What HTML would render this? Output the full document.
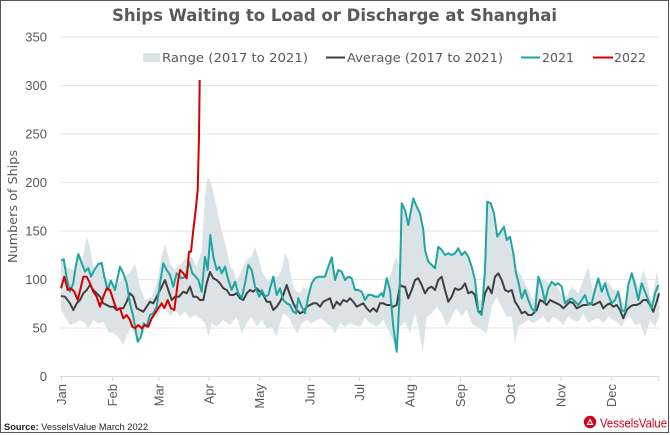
<!DOCTYPE html>
<html><head><meta charset="utf-8"><style>
html,body{margin:0;padding:0;background:#fff;}
svg{display:block;font-family:"Liberation Sans",Arial,sans-serif;}
.dv{font-family:"DejaVu Sans","Liberation Sans",sans-serif;}
</style></head><body>
<svg width="670" height="435" viewBox="0 0 670 435" xmlns="http://www.w3.org/2000/svg">
<rect x="0" y="0" width="670" height="435" fill="#fff"/>
<rect x="0.5" y="0.5" width="668" height="432" fill="none" stroke="#555" stroke-width="1"/>
<text class="dv" x="112" y="21" font-size="17" font-weight="bold" fill="#595959" textLength="445" lengthAdjust="spacingAndGlyphs">Ships Waiting to Load or Discharge at Shanghai</text>

<!-- gridlines -->
<g stroke="#e6e6e6" stroke-width="1">
<line x1="60" x2="659" y1="37" y2="37"/>
<line x1="60" x2="659" y1="85.5" y2="85.5"/>
<line x1="60" x2="659" y1="134" y2="134"/>
<line x1="60" x2="659" y1="182.5" y2="182.5"/>
<line x1="60" x2="659" y1="231" y2="231"/>
<line x1="60" x2="659" y1="279.5" y2="279.5"/>
<line x1="60" x2="659" y1="328" y2="328"/>
</g>
<line x1="60" x2="659" y1="376.5" y2="376.5" stroke="#d9d9d9" stroke-width="1"/>
<g stroke="#d9d9d9" stroke-width="1">
<line x1="61.4" x2="61.4" y1="376.5" y2="381"/>
<line x1="112.4" x2="112.4" y1="376.5" y2="381"/>
<line x1="158.8" x2="158.8" y1="376.5" y2="381"/>
<line x1="209" x2="209" y1="376.5" y2="381"/>
<line x1="259.6" x2="259.6" y1="376.5" y2="381"/>
<line x1="310" x2="310" y1="376.5" y2="381"/>
<line x1="359.6" x2="359.6" y1="376.5" y2="381"/>
<line x1="409.9" x2="409.9" y1="376.5" y2="381"/>
<line x1="460.5" x2="460.5" y1="376.5" y2="381"/>
<line x1="510.7" x2="510.7" y1="376.5" y2="381"/>
<line x1="561" x2="561" y1="376.5" y2="381"/>
<line x1="611.6" x2="611.6" y1="376.5" y2="381"/>
<line x1="658.8" x2="658.8" y1="376.5" y2="381"/>
</g>

<!-- y tick labels -->
<g font-size="13" fill="#595959" text-anchor="end">
<text x="47" y="41.5">350</text>
<text x="47" y="90">300</text>
<text x="47" y="138.5">250</text>
<text x="47" y="187">200</text>
<text x="47" y="235.5">150</text>
<text x="47" y="284">100</text>
<text x="47" y="332.5">50</text>
<text x="47" y="381">0</text>
</g>
<text class="dv" transform="translate(17,263) rotate(-90)" font-size="12.5" fill="#595959" textLength="113" lengthAdjust="spacingAndGlyphs">Numbers of Ships</text>

<!-- month labels -->
<g font-size="13" fill="#595959" text-anchor="end">
<text transform="translate(66,384) rotate(-90)">Jan</text>
<text transform="translate(117,384) rotate(-90)">Feb</text>
<text transform="translate(163.3,384) rotate(-90)">Mar</text>
<text transform="translate(213.5,384) rotate(-90)">Apr</text>
<text transform="translate(264.1,384) rotate(-90)">May</text>
<text transform="translate(314.5,384) rotate(-90)">Jun</text>
<text transform="translate(364.1,384) rotate(-90)">Jul</text>
<text transform="translate(414.4,384) rotate(-90)">Aug</text>
<text transform="translate(465,384) rotate(-90)">Sep</text>
<text transform="translate(515.2,384) rotate(-90)">Oct</text>
<text transform="translate(565.5,384) rotate(-90)">Nov</text>
<text transform="translate(616.1,384) rotate(-90)">Dec</text>
</g>

<!-- range band -->
<polygon fill="#dce3e6" stroke="none" points="61,262 68.3,268 75,270 78.3,254 81.7,263 86.7,236.7 90,246.7 93.3,268 98.3,264 101.7,263 105,276.7 111.7,280.7 115,286 118.3,283.3 125,276.7 131.7,270 135,263.3 140,286.7 145,300 151.7,296.7 156.7,283.3 161.7,256.7 165,243.3 170,263.3 175,270 181.7,263.3 186.7,256.7 191.7,256.7 196.7,266.7 201.7,250 205,196.7 207.7,176.7 211,183.3 214.3,196.7 218.3,215 222,232 226.7,250 230,266.7 233.3,270 236.7,281.7 241.7,270 246.7,260 251.7,256.7 255,246.7 258.3,256.7 261.7,270 266.7,280 270,280 273.3,276.7 278.3,276.7 281.7,270 285,253.3 288.3,260 291.7,280 295,290 300,293.3 303.3,286.7 308.3,290 311.7,283.3 315,276.7 320,276.7 325,276.7 328.3,266.7 331.7,257.3 335,276.7 340,270 343.3,276.7 350,276.7 356.7,290 363.3,293.3 370,293.3 376.7,295 383.3,291.7 386.7,278.3 390,276.7 393.3,265 396,256.7 399.3,265 401.7,203.3 405,210 408.3,225 411.7,206.7 413.3,198.3 416.7,206.7 420,213.3 423.3,230 425,250 428.3,261.7 431.7,265 435,268.3 438.3,246.7 441.7,250 445,255 448.3,253.3 451.7,255 455,253.3 458.3,248.3 461.7,255 465,251.7 468.3,256.7 471.7,266.7 475,280 478.3,300 481.7,300 485,270 487.3,201.7 490.7,203.3 494,213.3 497.3,236.7 500.7,231.7 504,226.7 506.7,240 510,236.7 513.3,253.3 516,270 520,273.3 526.7,286.7 533.3,300 538.3,276.7 545,280 550,283.3 556.7,286.7 563.3,296.7 566.7,296.7 571.7,286.7 578.3,293.3 583.3,280 588.3,266.7 593.3,293.3 598.3,276.7 603.3,286.7 606.7,280 613.3,290 618.3,290 625,306.7 630,283.3 633.3,273.3 638.3,286.7 643.3,270 646.7,280 651.7,303.3 656.7,271.7 659.3,286.7 659.3,316.7 655,326.7 650,320 645,336.7 640,323.3 635,325 630,316.7 625,320 621.7,326.7 618.3,323.3 613.3,320 608.3,316.7 603.3,323.3 598.3,318.3 593.3,320 588.3,323.3 583.3,313.3 578.3,321.7 573.3,320 568.3,316.7 563.3,325 558.3,320 553.3,316.7 548.3,323.3 543.3,316.7 538.3,320 533.3,323.3 528.3,320 523.3,323.3 518.3,326.7 515,343.3 511.7,316.7 506.7,316.7 501.7,306.7 496.7,296.7 491.7,306.7 486.7,333.3 481.7,330 476.7,326.7 471.7,323.3 466.7,310 461.7,316.7 456.7,308.3 451.7,316.7 446.7,326.7 441.7,313.3 436.7,306.7 431.7,313.3 426.7,316.7 422.7,351.7 418.3,326.7 415,313.3 410,333.3 405,321.7 400,326.7 396.7,352 392.7,340 388.3,330 383.3,320 376.7,326.7 370,323.3 365,318.3 360,326.7 355,325 350,323.3 345,326.7 340,323.3 335,333.3 331.7,326.7 326.7,323.3 321.7,318.3 316.7,320 311.7,323.3 306.7,320 301.7,323.3 297.3,333.3 293.3,326.7 288.3,316.7 283.3,313.3 280,323.3 276.7,336.7 271.7,326.7 266.7,328.3 261.7,320 256.7,326.7 251.7,316.7 246.7,323.3 241.7,333.3 236.7,316.7 230,325 223.3,320 216.7,326.7 211.7,323.3 208.3,336.7 205,323.3 200,318.3 195,315 190,318.3 185,311.7 180,316.7 175,310 170,316.7 165,305 161,310 156.7,316.7 151.7,318.3 146.7,326.7 141,336.7 136.7,340 131,326.7 126.7,336.7 123.3,345 118.3,336.7 113.3,333.3 108.3,331.7 103.3,321.7 98.3,323.3 93.3,320 88.3,328.3 85,323.3 80,320 75,323.3 70,325 65,316.7 61,310"/>

<!-- average -->
<polyline fill="none" stroke="#404040" stroke-width="2" stroke-linejoin="round" points="61,296 65,296.7 70,303.3 73.3,310 76.7,303.3 80,300 83.3,293.3 86.7,290 90,285 93.3,290 96.7,293.3 100,296.7 103.3,303.3 106.7,305 110,306.7 113.3,306.7 116.7,310 120,308.3 123.3,308.3 126.7,301.7 130,293.3 133.3,296.7 136.7,308.3 140,310 143.3,311.7 146.7,306.7 150,301.7 153.3,303.3 156.7,296.7 161,288.3 165,280 168.3,290 171.7,300 175,296.7 179,296.7 183.3,291.7 186.7,293.3 190,286.7 193.3,296.7 196.7,296.7 200,300 203.3,300 206.7,283.3 210,272 213.3,278.3 216.7,280 220,283.3 223.3,288.3 226.7,290 230,295 233.3,295 236.7,293.3 240,298.3 243.3,300 246.7,293.3 250,290 253.3,291.7 256.7,288.3 260,291.7 263.3,295 266.7,301.7 270,301.7 273.3,310 276.7,306.7 280,301.7 283.3,295 286.7,285 290,295 293.3,303.3 296.7,310 300,313.3 303.3,311.7 306.7,306.7 310,305 313.3,303.3 316.7,303.3 320,306.7 323.3,301.7 326.7,300 330,298.3 333.3,308.3 336.7,301.7 340,305 343.3,300 346.7,301.7 350,298.3 353.3,301.7 356.7,306.7 360,305 363.3,303.3 366.7,308.3 370,311.7 373.3,308.3 376.7,311.7 380,303.3 383.3,303.3 386.7,305 390,305 393.3,306.7 396.7,305 400,285 403.3,286.7 405,286.7 408.3,298.3 411.7,290 415,280 418.3,278.3 421.7,285 425,293.3 428.3,288.3 431.7,286.7 435,290 438.3,280 441.7,276.7 445,290 448.3,301.7 451.7,296.7 455,288.3 458.3,290 461.7,288.3 465,283.3 468.3,293.3 471.7,291.7 475,295 478.3,311.7 481.7,311.7 485,293.3 488.3,286.7 491.7,293.3 495,276.7 498.3,273.3 501.7,280 505,290 508.3,291.7 511.7,290 515,301.7 518.3,306.7 521.7,313.3 525,311.7 528.3,315 531.7,315 536.7,310 540,300 543.3,301.7 546.7,305 550,300 553.3,301.7 556.7,303.3 560,305 563.3,308.3 566.7,305 570,301.7 573.3,303.3 576.7,308.3 580,306.7 583.3,305 586.7,305 590,303.3 593.3,305 596.7,303.3 600,301.7 603.3,308.3 606.7,305 610,303.3 613.3,306.7 616.7,305 620,310 623.3,318.3 626.7,310 630,306.7 633.3,305 636.7,305 640,303.3 643.3,300 646.7,300 650,305 653.3,311.7 656.7,301.7 659,293.3"/>

<!-- 2021 -->
<polyline fill="none" stroke="#1fa5a2" stroke-width="2" stroke-linejoin="round" points="61,260.7 63.7,259.3 66.7,278 70,291.7 73.3,283 75.7,266.7 78.3,254 81.7,263 85,271.7 88.3,268 91,276.7 94.3,270 98.3,264 101.7,263 104.3,276.7 107.7,290 111,280.7 115,290 120,266.7 123.3,273.3 126.7,283.3 130,303.3 133.3,316.7 137.7,341.7 141,336.7 143.7,323.3 146.7,326.7 150,315 153.3,313.3 156.7,306.7 160,283.3 163.3,263.3 166.7,270 170,275 173.3,286.7 176.7,273.3 181.7,278.3 185.7,276.7 189,261.7 192.3,273.3 195.7,276.7 198.3,280 201.7,291.7 205,256.7 207.7,270 210.3,235 213.3,256.7 216.7,270 219.3,266.7 221.7,273.3 225,266.7 228.3,280 231.7,290 235,281.7 238.3,293.3 241.7,298.3 245,283.3 248.3,265 251.7,270 255,286.7 259.3,296.7 261.7,290 265,296.7 268.3,295 273.3,276.7 276.7,295 280,288.3 283.3,300 286.7,303.3 290,305 293.3,311.7 296,313.3 298.3,298.3 301.7,306.7 305,313.3 308.3,296.7 311.7,283.3 315,278.3 318.3,276.7 321.7,276.7 325,276.7 328.3,266.7 331.7,257.3 335,280 338.3,270 341.7,271.7 345,280 348.3,276.7 351.7,278.3 355,290 358.3,290 361.7,291.7 365,300 368.3,295 371.7,295 375,296.7 378.3,296.7 381.7,293.3 383.3,296.7 386.7,278.3 390,290 393.3,326.7 396.7,351.7 399.3,303.3 401.7,203.3 405,210 408.3,225 411.7,206.7 413.3,198.3 416.7,206.7 420,213.3 423.3,230 425,250 428.3,261.7 431.7,265 435,268.3 438.3,246.7 441.7,250 445,255 448.3,253.3 451.7,255 455,253.3 458.3,248.3 461.7,255 465,251.7 468.3,256.7 471.7,266.7 475,280 478.3,311.7 481.7,315 485,270 487.3,201.7 490.7,203.3 494,213.3 497.3,236.7 500.7,231.7 504,226.7 506.7,240 510,236.7 513.3,253.3 516,273.3 518.3,281.7 521.7,298.3 525,290 528.3,300 531.7,308.3 535,311.7 538.3,276.7 541.7,286.7 545,301.7 548.3,288.3 551.7,281.7 555,285 558.3,283.3 561.7,286.7 565,303.3 568.3,300 571.7,298.3 575,301.7 578.3,305 581.7,300 585,295 588.3,305 591.7,303.3 595,290 598.3,278.3 601.7,291.7 605,283.3 608.3,295 611.7,303.3 615,300 618.3,291.7 621.7,310 625,311.7 628.3,285 631.7,273.3 635,285 638.3,300 641.7,283.3 645,291.7 648.3,300 651.7,308.3 655,293.3 658.3,285"/>

<!-- 2022 -->
<polyline fill="none" stroke="#d40000" stroke-width="2" stroke-linejoin="round" points="61,288.3 64.3,276.7 67.7,290 71,288.3 74.3,291.7 77.7,300 81,286.7 83.3,276.7 86.7,276.7 90,283.3 93.3,291.7 96.7,296.7 100,306.7 103.3,296.7 106.7,288.3 110,290 113.3,300 116.7,310 120,308.3 123.3,318.3 126.7,315 130,320 132.3,326.7 135,328.3 138.3,325 141.7,328.3 145,325 148.3,326.7 151.7,318.3 155,313.3 158.3,308.3 161.7,303.3 164.3,308.3 167.7,300 171,308.3 174.3,310 177.7,283.3 180,270 183.3,273.3 186.7,278.3 189,251.7 191,251.7 193.3,230 195.7,210 197.7,190 199,136.7 199.7,80"/>

<!-- legend -->
<rect x="143" y="53" width="17" height="9" fill="#dce3e6"/>
<text class="dv" x="162" y="62" font-size="12.5" fill="#595959" textLength="146" lengthAdjust="spacingAndGlyphs">Range (2017 to 2021)</text>
<line x1="326" x2="345" y1="57.5" y2="57.5" stroke="#404040" stroke-width="2"/>
<text class="dv" x="347" y="62" font-size="12.5" fill="#595959" textLength="156" lengthAdjust="spacingAndGlyphs">Average (2017 to 2021)</text>
<line x1="521" x2="540" y1="57.5" y2="57.5" stroke="#1fa5a2" stroke-width="2"/>
<text class="dv" x="542" y="62" font-size="12.5" fill="#595959" textLength="32" lengthAdjust="spacingAndGlyphs">2021</text>
<line x1="593" x2="613" y1="57.5" y2="57.5" stroke="#d40000" stroke-width="2"/>
<text class="dv" x="614" y="62" font-size="12.5" fill="#595959" textLength="32" lengthAdjust="spacingAndGlyphs">2022</text>

<!-- footer -->
<text x="4" y="430" font-size="9.5" fill="#222" textLength="144" lengthAdjust="spacingAndGlyphs" style="font-family:'Liberation Sans Narrow','Liberation Sans',sans-serif"><tspan font-weight="bold">Source:</tspan> VesselsValue March 2022</text>
<circle cx="590" cy="422" r="6.2" fill="#d4001a"/>
<polygon points="586.5,425 593.5,425 590,418.3" fill="#fff"/>
<polygon points="588.3,423.8 591.7,423.8 590,420.8" fill="#d4001a"/>
<text x="600" y="427.5" font-size="13" fill="#d4001a" textLength="67" lengthAdjust="spacingAndGlyphs" style="font-family:'Liberation Sans Narrow','Liberation Sans',sans-serif">VesselsValue</text>
</svg>
</body></html>
